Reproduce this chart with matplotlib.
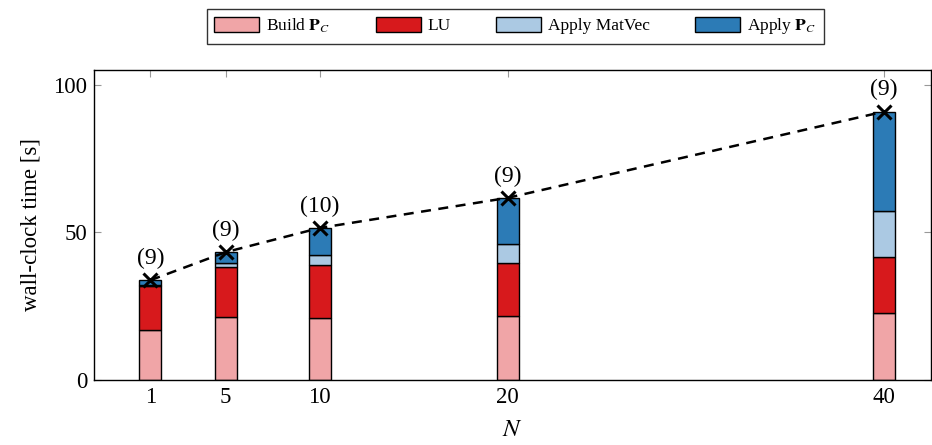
import numpy as np
import matplotlib
matplotlib.use("Agg")
import matplotlib.pyplot as plt

plt.rcParams['font.family'] = ['Liberation Serif', 'DejaVu Serif']
plt.rcParams['mathtext.fontset'] = 'stix'
plt.rcParams['font.size'] = 15

# data (seconds)
N = [1, 5, 10, 20, 40]
build_pc = [16.8, 21.3, 20.9, 21.6, 22.6]
lu = [14.9, 17.0, 18.1, 18.0, 18.9]
apply_matvec = [0.6, 1.2, 3.4, 6.6, 15.7]
apply_pc = [1.5, 3.8, 9.1, 15.5, 33.7]
iterations = ['(9)', '(9)', '(10)', '(9)', '(9)']

labels = [r'Build $\mathbf{P}_C$', 'LU', 'Apply MatVec', r'Apply $\mathbf{P}_C$']
colors = ['#f0a5a7', '#d7191c', '#abc9e3', '#2c7bb6']
series = [build_pc, lu, apply_matvec, apply_pc]

fig = plt.figure(figsize=(9.32, 4.45), dpi=100)
ax = fig.add_axes([0.1009, 0.1461, 0.8980, 0.6966])

bottom = np.zeros(len(N))
handles = []
for vals, lab, col in zip(series, labels, colors):
    h = ax.bar(N, vals, width=1.17, bottom=bottom, color=col, edgecolor='black',
               linewidth=1.0, label=lab, zorder=2)
    handles.append(h)
    bottom = bottom + np.array(vals)

total = bottom
ax.plot(N, total, linestyle=(0, (4, 3)), color='black', linewidth=1.8,
        marker='x', markersize=10, markeredgewidth=2.2, zorder=3)
for x, t, s in zip(N, total, iterations):
    ax.annotate(s, (x, t), xytext=(0, 8), textcoords='offset points',
                ha='center', va='bottom', fontsize=17)

ax.set_xlim(-2, 42.5)
ax.set_ylim(0, 105)
ax.set_xticks(N)
ax.set_yticks([0, 50, 100])
ax.tick_params(direction='in', length=5, color='#999999', top=True, right=True,
               labelsize=16.5, pad=5)
for sp in ax.spines.values():
    sp.set_linewidth(1.0)
ax.set_xlabel('$N$', fontsize=18, labelpad=8)
ax.set_ylabel('wall-clock time [s]', fontsize=16.5, labelpad=8)

fig.legend(handles=handles, loc='upper center', bbox_to_anchor=(0.553, 1.0),
           ncol=4, frameon=True, fancybox=False, edgecolor='black',
           fontsize=12.5, handlelength=2.6, handleheight=0.9, columnspacing=2.6,
           borderpad=0.45, handletextpad=0.4)

fig.savefig('out.png', dpi=100)
